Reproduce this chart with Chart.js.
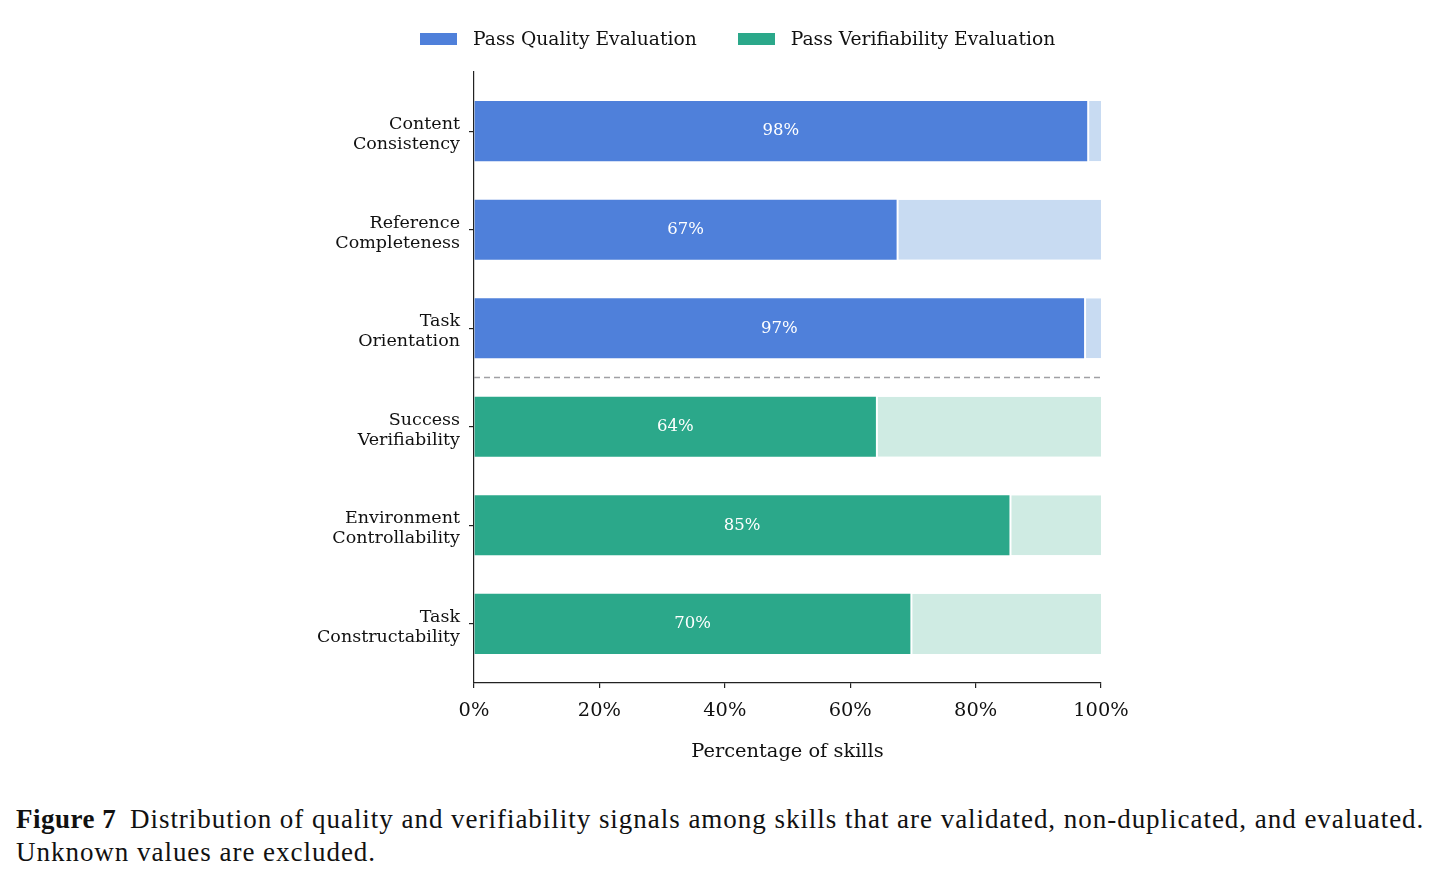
<!DOCTYPE html>
<html>
<head>
<meta charset="utf-8">
<script src="https://cdn.jsdelivr.net/npm/chart.js@4/dist/chart.umd.min.js"></script>
<style>
  body { margin: 0; background: #fff; width: 1447px; height: 882px; position: relative; overflow: hidden; }
  #wrap { position: absolute; left: 0; top: 0; width: 1447px; height: 790px; }
  .legend { position: absolute; top: 28px; left: 420px; font-family: 'DejaVu Serif', serif; font-size: 18.7px; color: #111; display: flex; align-items: center; white-space: nowrap; }
  .legend .box { display: inline-block; width: 37px; height: 12px; margin-right: 16px; }
  .legend .item { display: flex; align-items: center; margin-right: 41px; }
  .caption { position: absolute; left: 16px; top: 803px; font-family: 'Liberation Serif', serif; font-size: 27px; letter-spacing: 0.97px; line-height: 33px; color: #111; width: 1430px; white-space: nowrap; }
  .caption b { margin-right: 6px; letter-spacing: 0.5px; }
</style>
</head>
<body>
<div id="wrap"><canvas id="chart"></canvas></div>
<div class="legend" id="legend"></div>
<div class="caption"><b>Figure 7</b> Distribution of quality and verifiability signals among skills that are validated, non-duplicated, and evaluated.<br>Unknown values are excluded.</div>
<script>
const categories = [
  ['Content', 'Consistency'],
  ['Reference', 'Completeness'],
  ['Task', 'Orientation'],
  ['Success', 'Verifiability'],
  ['Environment', 'Controllability'],
  ['Task', 'Constructability']
];
// share of skills that pass, in percent
const passPct = [97.8, 67.4, 97.3, 64.1, 85.4, 69.6];
// which evaluation each row belongs to
const rowGroup = ['quality', 'quality', 'quality', 'verif', 'verif', 'verif'];
const xTicks = [0, 20, 40, 60, 80, 100];

const groups = {
  quality: { label: 'Pass Quality Evaluation', color: '#4f80da', light: '#c8dbf2' },
  verif: { label: 'Pass Verifiability Evaluation', color: '#2ba88a', light: '#cfebe3' }
};

const FONT = "'DejaVu Serif', serif";
const datasets = [];
Object.keys(groups).forEach(key => {
  const g = groups[key];
  const pass = [], rest = [];
  passPct.forEach((v, i) => {
    if (rowGroup[i] !== key) return;
    pass.push({ x: v, y: i });
    rest.push({ x: 100 - v, y: i });
  });
  datasets.push({ label: g.label, data: pass, backgroundColor: g.color, isPass: true });
  datasets.push({ label: g.label + ' (rest)', data: rest, backgroundColor: g.light,
    borderColor: '#fff', borderWidth: { left: 2 }, borderSkipped: false });
});

// legend drawn as html
const legend = document.getElementById('legend');
Object.values(groups).forEach(g => {
  legend.innerHTML += `<span class="item"><span class="box" style="background:${g.color}"></span>${g.label}</span>`;
});

const barLabels = {
  id: 'barLabels',
  afterDatasetsDraw(chart) {
    const ctx = chart.ctx;
    ctx.save();
    ctx.fillStyle = '#fff';
    ctx.font = '16.5px ' + FONT;
    ctx.textAlign = 'center';
    ctx.textBaseline = 'middle';
    chart.data.datasets.forEach((ds, di) => {
      if (!ds.isPass) return;
      chart.getDatasetMeta(di).data.forEach((el, j) => {
        const cx = (el.x + el.base) / 2;
        ctx.fillText(Math.round(ds.data[j].x) + '%', cx, el.y);
      });
    });
    ctx.restore();
  }
};

const divider = {
  id: 'divider',
  afterDatasetsDraw(chart) {
    const { ctx, chartArea, scales } = chart;
    const y = scales.y.getPixelForValue(2.5);
    ctx.save();
    ctx.strokeStyle = '#a0a0a4';
    ctx.lineWidth = 1.6;
    ctx.setLineDash([6, 4]);
    ctx.beginPath();
    ctx.moveTo(chartArea.left, y);
    ctx.lineTo(chartArea.right, y);
    ctx.stroke();
    ctx.restore();
  }
};

new Chart(document.getElementById('chart'), {
  type: 'bar',
  data: { datasets },
  plugins: [barLabels, divider],
  options: {
    indexAxis: 'y',
    responsive: true,
    maintainAspectRatio: false,
    animation: false,
    layout: { padding: { left: 294, right: 346, top: 72, bottom: 7 } },
    datasets: { bar: { categoryPercentage: 1, barPercentage: 0.609 } },
    plugins: { legend: { display: false }, tooltip: { enabled: false } },
    scales: {
      x: {
        type: 'linear', min: 0, max: 100, stacked: true,
        afterBuildTicks: s => { s.ticks = xTicks.map(v => ({ value: v })); },
        afterFit: s => { s.height = 100; },
        grid: { drawOnChartArea: false, tickLength: 5, color: '#222', lineWidth: 1.2 },
        border: { color: '#222', width: 1.2 },
        ticks: { callback: v => v + '%', color: '#111', padding: 11, font: { family: FONT, size: 19.4 } },
        title: { display: true, text: 'Percentage of skills', color: '#111', padding: { top: 0, bottom: 19 }, font: { family: FONT, size: 19.4 } }
      },
      y: {
        type: 'linear', min: -0.6, max: 5.6, reverse: true, stacked: true,
        offset: false,
        afterBuildTicks: s => { s.ticks = categories.map((c, i) => ({ value: i })); },
        afterFit: s => { s.width = 180; },
        grid: { offset: false, drawOnChartArea: false, tickLength: 5, color: '#222', lineWidth: 1.2 },
        border: { color: '#222', width: 1.2 },
        ticks: { callback: v => categories[v], color: '#111', padding: 9, labelOffset: 3.5, font: { family: FONT, size: 17.5, lineHeight: 1.15 } }
      }
    }
  }
});
</script>
</body>
</html>
